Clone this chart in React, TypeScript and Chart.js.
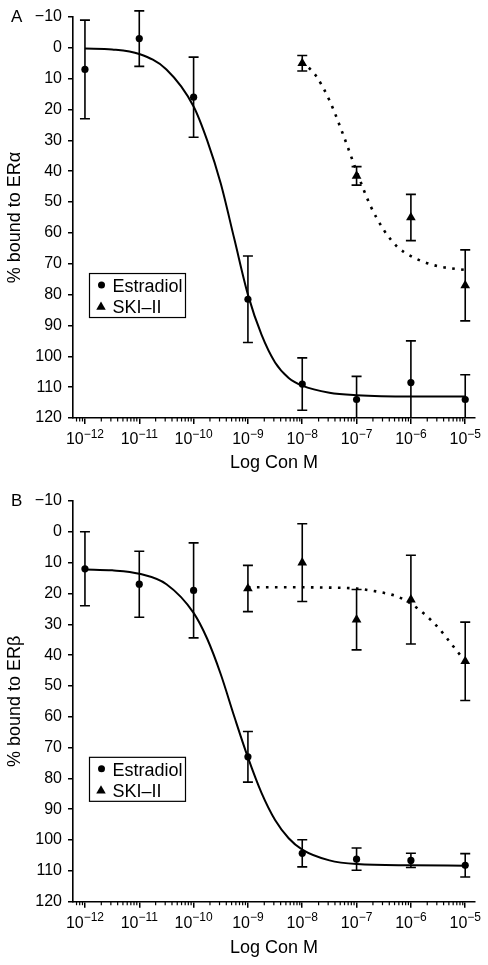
import React, { useEffect, useRef } from "react";
import { Chart, registerables } from "chart.js";

Chart.register(...registerables);

const FONT = '"Liberation Sans", Arial, Helvetica, sans-serif';

// ---- shared axes ----
const logConc = [-12, -11, -10, -9, -8, -7, -6, -5];
const decadeTicks = [-12, -11, -10, -9, -8, -7, -6, -5];
const yTickValues = [-10, 0, 10, 20, 30, 40, 50, 60, 70, 80, 90, 100, 110, 120];
const xMin = -12.22;
const xMax = -4.82;
const yMin = -10;
const yMax = 120;
const xTitle = "Log Con M";
const seriesNames = ["Estradiol", "SKI\u2013II"];
const yTitleA = "% bound to ER\u03b1";
const yTitleB = "% bound to ER\u03b2";

// ---- panel A (ERα) ----
const estradiolA = [7, -3, 16, 81.5, 109, 114, 108.5, 114];
const estradiolAErr = [16, 9, 13, 14, 8.5, 7.5, 13.5, 8];
const skiConcA = [-8, -7, -6, -5];
const skiA = [5, 41.5, 55, 77];
const skiAErr = [2.5, 3, 7.5, 11.5];
const fitXA = [-12, -11.5, -11, -10.5, -10, -9.75, -9.5, -9.25, -9, -8.75, -8.5, -8.25, -8, -7.5, -7, -6, -5];
const estradiolFitA = [0.2, 0.5, 2, 7, 19, 30, 44, 62, 80, 93, 102, 107, 109.5, 111.8, 112.6, 113, 113];
const skiFitXA = [-8, -7.75, -7.5, -7.25, -7, -6.75, -6.5, -6.25, -6, -5.75, -5.5, -5.25, -5];
const skiFitA = [4.5, 9, 17, 28, 40, 51, 59, 64.5, 67.5, 69.5, 70.8, 71.5, 72];

// ---- panel B (ERβ) ----
const estradiolB = [12, 17, 19, 73, 104.3, 106.2, 106.6, 108.2];
const estradiolBErr = [12, 10.7, 15.4, 8.2, 4.4, 3.6, 2.3, 3.8];
const skiConcB = [-9, -8, -7, -6, -5];
const skiB = [18.4, 10, 28.5, 22, 42];
const skiBErr = [7.5, 12.6, 9.8, 14.4, 12.7];
const fitXB = [-12, -11.5, -11, -10.5, -10, -9.75, -9.5, -9.25, -9, -8.75, -8.5, -8.25, -8, -7.5, -7, -6, -5];
const estradiolFitB = [12.2, 12.5, 13.6, 17, 26.3, 34.7, 46.2, 60, 73.2, 84.7, 93.5, 99.4, 103.1, 106.6, 107.8, 108.2, 108.3];
const skiFitXB = [-9, -8.5, -8, -7.5, -7, -6.75, -6.5, -6.25, -6, -5.75, -5.5, -5.25, -5];
const skiFitB = [18, 18, 18, 18.1, 18.4, 19, 19.8, 21, 23.3, 26.7, 31, 36.5, 42];

const legendTopValue = 73;

function fmtY(v: number) {
  return v < 0 ? "\u2212" + Math.abs(v) : String(v);
}

function drawTriangle(ctx: CanvasRenderingContext2D, x: number, y: number, r: number) {
  ctx.beginPath();
  ctx.moveTo(x, y - r);
  ctx.lineTo(x + 0.866 * r, y + 0.5 * r);
  ctx.lineTo(x - 0.866 * r, y + 0.5 * r);
  ctx.closePath();
  ctx.fill();
}

const errorBarPlugin = {
  id: "errorBars",
  beforeDatasetsDraw(chart: any) {
    const { ctx, chartArea } = chart;
    const xs = chart.scales.x;
    const ys = chart.scales.y;
    ctx.save();
    ctx.beginPath();
    ctx.rect(0, 0, chart.width, chartArea.bottom);
    ctx.clip();
    ctx.strokeStyle = "#000";
    ctx.lineWidth = 1.6;
    chart.data.datasets.forEach((ds: any) => {
      if (!ds.errors) return;
      ds.data.forEach((p: any, i: number) => {
        const e = ds.errors[i];
        const px = xs.getPixelForValue(p.x);
        const y1 = ys.getPixelForValue(p.y - e);
        const y2 = ys.getPixelForValue(p.y + e);
        ctx.beginPath();
        ctx.moveTo(px, y1);
        ctx.lineTo(px, y2);
        ctx.moveTo(px - 5, y1);
        ctx.lineTo(px + 5, y1);
        ctx.moveTo(px - 5, y2);
        ctx.lineTo(px + 5, y2);
        ctx.stroke();
      });
    });
    ctx.restore();
  },
};

const decorPlugin = {
  id: "decor",
  afterDraw(chart: any, _args: any, opts: any) {
    const { ctx, chartArea } = chart;
    const xs = chart.scales.x;
    const ys = chart.scales.y;
    ctx.save();
    // minor ticks on log axis
    ctx.strokeStyle = "#000";
    ctx.lineWidth = 1.2;
    for (let n = -13; n <= -5; n++) {
      for (let k = 2; k <= 9; k++) {
        const v = n + Math.log10(k);
        if (v < xMin || v > xMax) continue;
        const px = xs.getPixelForValue(v);
        ctx.beginPath();
        ctx.moveTo(px, chartArea.bottom);
        ctx.lineTo(px, chartArea.bottom + 3.5);
        ctx.stroke();
      }
    }
    // decade labels 10^n
    ctx.fillStyle = "#000";
    ctx.textBaseline = "alphabetic";
    ctx.textAlign = "left";
    const mainFont = `16px ${FONT}`;
    const supFont = `12px ${FONT}`;
    decadeTicks.forEach((v) => {
      const px = xs.getPixelForValue(v);
      const exp = "\u2212" + Math.abs(v);
      ctx.font = mainFont;
      const w1 = ctx.measureText("10").width;
      ctx.font = supFont;
      const w2 = ctx.measureText(exp).width;
      const start = px - (w1 + w2) / 2;
      const base = chartArea.bottom + 26;
      ctx.font = mainFont;
      ctx.fillText("10", start, base);
      ctx.font = supFont;
      ctx.fillText(exp, start + w1, base - 6.5);
    });
    // panel letter
    ctx.font = `17px ${FONT}`;
    ctx.textBaseline = "middle";
    ctx.fillText(opts.letter, 11, chartArea.top + 0.5);
    // legend
    const left = chartArea.left + 16;
    const top = ys.getPixelForValue(legendTopValue);
    ctx.lineWidth = 1.2;
    ctx.strokeRect(left + 0.5, top + 0.5, 96, 44);
    ctx.beginPath();
    ctx.arc(left + 12.5, top + 12, 3.5, 0, Math.PI * 2);
    ctx.fill();
    drawTriangle(ctx, left + 12, top + 34, 5.5);
    ctx.font = `18px ${FONT}`;
    ctx.textBaseline = "alphabetic";
    ctx.fillText(seriesNames[0], left + 23.5, top + 19);
    ctx.fillText(seriesNames[1], left + 23.5, top + 40);
    ctx.restore();
  },
};

type PanelProps = {
  letter: string;
  yTitle: string;
  estradiol: number[];
  estradiolErr: number[];
  skiConc: number[];
  ski: number[];
  skiErr: number[];
  fitX: number[];
  estradiolFit: number[];
  skiFitX: number[];
  skiFit: number[];
  height: number;
  padTop: number;
  xAxisHeight: number;
};

function Panel(props: PanelProps) {
  const ref = useRef<HTMLCanvasElement>(null);
  useEffect(() => {
    const canvas = ref.current!;
    const chart = new Chart(canvas, {
      type: "line",
      data: {
        datasets: [
          {
            label: seriesNames[0] + " fit",
            data: props.fitX.map((x, i) => ({ x, y: props.estradiolFit[i] })),
            borderColor: "#000",
            borderWidth: 2,
            pointRadius: 0,
            cubicInterpolationMode: "monotone",
            fill: false,
          },
          {
            label: seriesNames[1] + " fit",
            data: props.skiFitX.map((x, i) => ({ x, y: props.skiFit[i] })),
            borderColor: "#000",
            borderWidth: 2.6,
            borderDash: [2.6, 6.4],
            pointRadius: 0,
            cubicInterpolationMode: "monotone",
            fill: false,
          },
          {
            label: seriesNames[0],
            data: logConc.map((x, i) => ({ x, y: props.estradiol[i] })),
            showLine: false,
            pointStyle: "circle",
            pointRadius: 3.6,
            backgroundColor: "#000",
            borderColor: "#000",
            borderWidth: 0,
            errors: props.estradiolErr,
          } as any,
          {
            label: seriesNames[1],
            data: props.skiConc.map((x, i) => ({ x, y: props.ski[i] })),
            showLine: false,
            pointStyle: "triangle",
            pointRadius: 5.6,
            backgroundColor: "#000",
            borderColor: "#000",
            borderWidth: 0,
            errors: props.skiErr,
          } as any,
        ],
      },
      options: {
        responsive: false,
        animation: false,
        devicePixelRatio: 1,
        events: [],
        layout: { padding: { left: 0, right: 13, top: props.padTop, bottom: 0 } },
        plugins: {
          legend: { display: false },
          tooltip: { enabled: false },
          decor: { letter: props.letter },
        } as any,
        scales: {
          x: {
            type: "linear",
            min: xMin,
            max: xMax,
            afterBuildTicks: (s: any) => {
              s.ticks = decadeTicks.map((v) => ({ value: v }));
            },
            ticks: { display: false },
            grid: { drawOnChartArea: false, drawTicks: true, tickLength: 6, color: "#000", lineWidth: 1.5 },
            border: { display: true, color: "#000", width: 1.6 },
            title: {
              display: true,
              text: xTitle,
              color: "#000",
              font: { family: FONT, size: 18 },
              padding: { top: 0, bottom: 6 },
            },
            afterFit: (s: any) => {
              s.height = props.xAxisHeight;
            },
          },
          y: {
            type: "linear",
            reverse: true,
            min: yMin,
            max: yMax,
            afterBuildTicks: (s: any) => {
              s.ticks = yTickValues.map((v) => ({ value: v }));
            },
            ticks: {
              color: "#000",
              font: { family: FONT, size: 16 },
              padding: 6,
              callback: (v: any) => fmtY(Number(v)),
            },
            grid: { drawOnChartArea: false, drawTicks: true, tickLength: 5, color: "#000", lineWidth: 1.5 },
            border: { display: true, color: "#000", width: 1.6 },
            title: {
              display: true,
              text: props.yTitle,
              color: "#000",
              font: { family: FONT, size: 18 },
              padding: { top: 4.2, bottom: 0 },
            },
            afterFit: (s: any) => {
              s.width = 73;
            },
          },
        },
      },
      plugins: [errorBarPlugin, decorPlugin],
    } as any);
    return () => chart.destroy();
  }, []);
  return (
    <canvas
      ref={ref}
      width={488}
      height={props.height}
      style={{ display: "block", width: 488, height: props.height }}
    />
  );
}

export default function App() {
  useEffect(() => {
    document.body.style.margin = "0";
    document.body.style.background = "#fff";
  }, []);
  return (
    <div style={{ width: 488, background: "#fff" }}>
      <Panel
        letter="A"
        yTitle={yTitleA}
        estradiol={estradiolA}
        estradiolErr={estradiolAErr}
        skiConc={skiConcA}
        ski={skiA}
        skiErr={skiAErr}
        fitX={fitXA}
        estradiolFit={estradiolFitA}
        skiFitX={skiFitXA}
        skiFit={skiFitA}
        height={480}
        padTop={17}
        xAxisHeight={62}
      />
      <Panel
        letter="B"
        yTitle={yTitleB}
        estradiol={estradiolB}
        estradiolErr={estradiolBErr}
        skiConc={skiConcB}
        ski={skiB}
        skiErr={skiBErr}
        fitX={fitXB}
        estradiolFit={estradiolFitB}
        skiFitX={skiFitXB}
        skiFit={skiFitB}
        height={485}
        padTop={21}
        xAxisHeight={63.3}
      />
    </div>
  );
}
